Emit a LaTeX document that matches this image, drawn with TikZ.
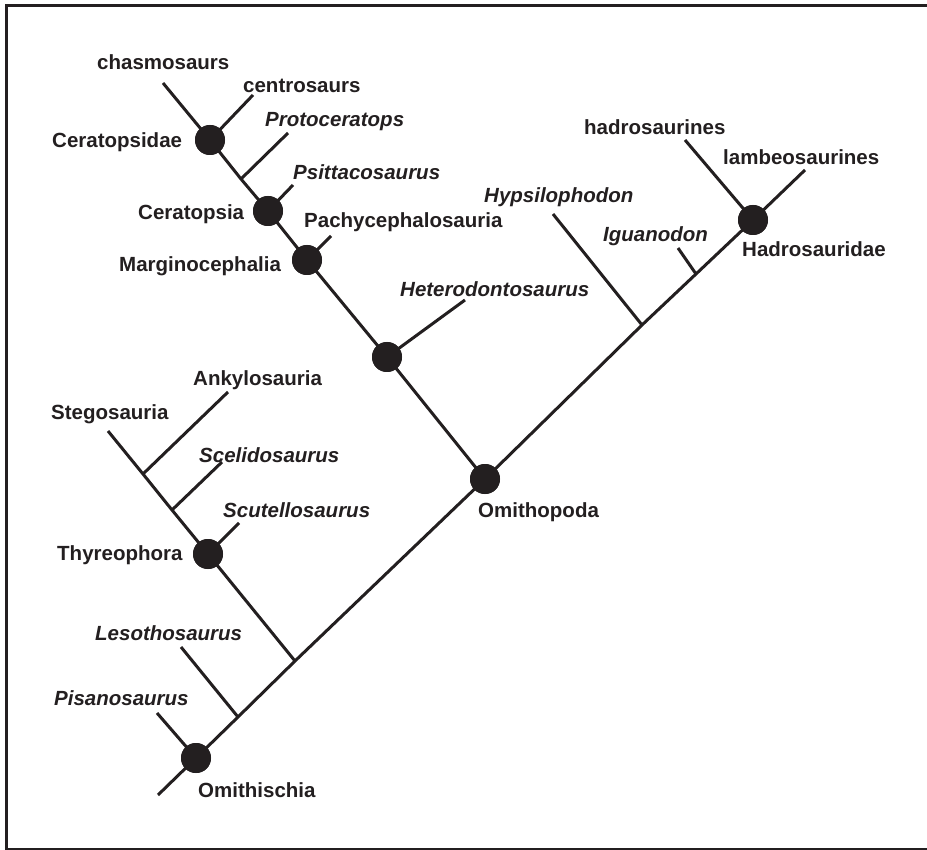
\documentclass[tikz,border=0pt]{standalone}
\usepackage{fontspec}
\setmainfont{Liberation Sans}
\definecolor{ink}{HTML}{231F20}
\begin{document}
\begin{tikzpicture}[x=1pt,y=-1pt,
  branch/.style={draw=ink, line width=3pt},
  dot/.style={circle, fill=ink, draw=none, minimum size=30pt, inner sep=0pt},
  lab/.style={anchor=base west, inner sep=0pt, text=ink, font=\fontsize{20.5}{24}\selectfont\bfseries},
  ilab/.style={lab, font=\fontsize{20.5}{24}\selectfont\bfseries\itshape}]
\useasboundingbox (0,0) rectangle (927,850);
% frame
\draw[branch] (940,5.5) -- (6,5.5) -- (6,849) -- (940,849);

% dots
\node[dot] (orni) at (196,758) {};
\node[dot] (thyr) at (208,554) {};
\node[dot] (ornp) at (485,479) {};
\node[dot] (hadr) at (753,220) {};
\node[dot] (neor) at (387,357) {};
\node[dot] (marg) at (307,260) {};
\node[dot] (cera) at (268,211) {};
\node[dot] (cerd) at (210,140) {};

% junctions and tips
\coordinate (stem) at (158,795);
\coordinate (j1) at (238,717);
\coordinate (j2) at (295,661);
\coordinate (j3) at (642,325);
\coordinate (j4) at (696,274);
\coordinate (jank) at (143,474);
\coordinate (jsce) at (172,510);
\coordinate (jpro) at (241,179);
\coordinate (tpis) at (157,713);
\coordinate (tles) at (181,647);
\coordinate (tsteg) at (108,431);
\coordinate (tank) at (228,392);
\coordinate (tsce) at (222,462);
\coordinate (tscu) at (239,523);
\coordinate (thet) at (465,300);
\coordinate (tpac) at (331,236);
\coordinate (tpsi) at (293,185);
\coordinate (tpro) at (288,133);
\coordinate (tcen) at (253,95);
\coordinate (tcha) at (163,83);
\coordinate (thyp) at (553,214);
\coordinate (tigu) at (678,248);
\coordinate (thad) at (685,140);
\coordinate (tlam) at (805,170);

% main ornithischian line
\draw[branch] (stem) -- (orni.center) -- (j1) -- (j2) -- (ornp.center) -- (j3) -- (j4) -- (hadr.center) -- (tlam);
% thyreophoran line
\draw[branch] (j2) -- (thyr.center) -- (jsce) -- (jank) -- (tsteg);
% marginocephalian line
\draw[branch] (ornp.center) -- (neor.center) -- (marg.center) -- (cera.center) -- (jpro) -- (cerd.center) -- (tcha);
% side branches
\draw[branch] (orni.center) -- (tpis);
\draw[branch] (j1) -- (tles);
\draw[branch] (thyr.center) -- (tscu);
\draw[branch] (jsce) -- (tsce);
\draw[branch] (jank) -- (tank);
\draw[branch] (neor.center) -- (thet);
\draw[branch] (marg.center) -- (tpac);
\draw[branch] (cera.center) -- (tpsi);
\draw[branch] (jpro) -- (tpro);
\draw[branch] (cerd.center) -- (tcen);
\draw[branch] (j3) -- (thyp);
\draw[branch] (j4) -- (tigu);
\draw[branch] (hadr.center) -- (thad);

% redraw dots on top
\foreach \n in {orni,thyr,ornp,hadr,neor,marg,cera,cerd}
  \fill[ink] (\n) circle[radius=15pt];

% labels
\node[lab]  (lcha) at (97,70)  {chasmosaurs};
\node[lab]  (lcen) at (243,93) {centrosaurs};
\node[ilab] (lpro) at (265,127) {Protoceratops};
\node[lab]  (lcerd) at (52,148) {Ceratopsidae};
\node[ilab] (lpsi) at (293,180) {Psittacosaurus};
\node[lab]  (lcera) at (138,220) {Ceratopsia};
\node[lab]  (lpac) at (304,228) {Pachycephalosauria};
\node[lab]  (lmarg) at (119,272) {Marginocephalia};
\node[ilab] (lhet) at (400,297) {Heterodontosaurus};
\node[lab]  (lank) at (193,385) {Ankylosauria};
\node[lab]  (lsteg) at (51,420) {Stegosauria};
\node[ilab] (lsce) at (199,462) {Scelidosaurus};
\node[ilab] (lscu) at (223,517) {Scutellosaurus};
\node[lab]  (lthyr) at (57,560) {Thyreophora};
\node[ilab] (lles) at (95,640) {Lesothosaurus};
\node[ilab] (lpis) at (54,705) {Pisanosaurus};
\node[lab]  (lorni) at (198,797) {Omithischia};
\node[lab]  (lornp) at (478,517) {Omithopoda};
\node[lab]  (lhad) at (584,135) {hadrosaurines};
\node[lab]  (llam) at (723,165) {lambeosaurines};
\node[ilab] (lhyp) at (484,203) {Hypsilophodon};
\node[ilab] (ligu) at (603,242) {Iguanodon};
\node[lab]  (lhadr) at (742,257) {Hadrosauridae};
\end{tikzpicture}
\end{document}
